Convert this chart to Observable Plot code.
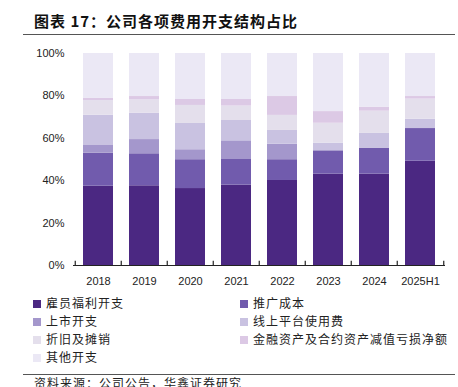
<!DOCTYPE html>
<html>
<head>
<meta charset="utf-8">
<script src="https://cdn.jsdelivr.net/npm/d3@7"></script>
<script src="https://cdn.jsdelivr.net/npm/@observablehq/plot@0.6"></script>
<style>
  html, body { margin: 0; padding: 0; background: #fff; }
  body { width: 458px; height: 387px; position: relative; overflow: hidden; font-family: "Liberation Sans", "Noto Sans CJK SC", sans-serif; }
  #title { position: absolute; left: 34px; top: 11px; font-family: "Noto Sans CJK SC", sans-serif; font-weight: bold; font-size: 15px; letter-spacing: 1px; color: #111; line-height: 20px; white-space: nowrap; }
  .hline { position: absolute; left: 23px; width: 432px; height: 0; border-top: 1.5px solid #555; }
  #chart { position: absolute; left: 0; top: 40px; }
  .leg { position: absolute; font-family: "Noto Sans CJK SC", sans-serif; font-size: 12px; letter-spacing: 1px; color: #222; line-height: 14px; white-space: nowrap; }
  .sw { position: absolute; width: 8px; height: 8px; }
  #source { position: absolute; left: 34px; top: 376px; font-family: "Noto Sans CJK SC", sans-serif; font-size: 12px; letter-spacing: 1px; color: #222; white-space: nowrap; line-height: 14px; }
</style>
</head>
<body>
<div id="title">图表 17：公司各项费用开支结构占比</div>
<div class="hline" style="top:34px"></div>
<div id="chart"></div>
<div id="legend"></div>
<div class="hline" style="top:374px"></div>
<div id="source">资料来源：公司公告，华鑫证券研究</div>
<script>
const years = ["2018", "2019", "2020", "2021", "2022", "2023", "2024", "2025H1"];
const seriesNames = ["雇员福利开支", "推广成本", "上市开支", "线上平台使用费", "折旧及摊销", "金融资产及合约资产减值亏损净额", "其他开支"];
const colors = ["#4b2882", "#715bad", "#a497cc", "#c9c2e1", "#e4dfec", "#dcc9e5", "#ebe8f5"];

const employee   = [37.4, 37.6, 36.3, 37.9, 40.1, 43.1, 43.1, 49.2];
const promotion  = [15.6, 15.1, 13.6, 12.1,  9.8, 11.0, 12.1, 15.4];
const listing    = [ 3.6,  6.7,  4.7,  8.8,  7.3,  0.0,  0.0,  0.0];
const online     = [14.3, 12.4, 12.4,  9.6,  6.5,  3.6,  7.1,  4.4];
const depreciation = [6.9, 6.4,  8.5,  6.8,  7.1,  9.4, 10.5,  9.5];
const impairment = [ 1.0,  1.5,  2.8,  3.1,  8.9,  5.5,  1.9,  1.2];
const other      = [21.2, 20.3, 21.7, 21.7, 20.3, 27.4, 25.3, 20.3];

const yTicks = [0, 20, 40, 60, 80, 100];

const seriesValues = [employee, promotion, listing, online, depreciation, impairment, other];
const rows = [];
seriesValues.forEach((vals, si) => {
  vals.forEach((v, yi) => rows.push({year: years[yi], series: seriesNames[si], value: v}));
});

const step = (458 - 73 - 13) / years.length;

const chart = Plot.plot({
  width: 458,
  height: 252,
  marginLeft: 73,
  marginRight: 13,
  marginTop: 13,
  marginBottom: 27,
  style: {fontFamily: "Liberation Sans, Arial, sans-serif", fontSize: "11px", color: "#222", background: "transparent"},
  x: {domain: years, paddingInner: 0.355, paddingOuter: 0.1775, label: null, tickSize: 0, tickPadding: 12},
  y: {domain: [0, 100], ticks: yTicks, tickFormat: d => d + "%", label: null, tickSize: 0, tickPadding: 9},
  color: {domain: seriesNames, range: colors},
  marks: [
    Plot.barY(rows, Plot.stackY({x: "year", y: "value", fill: "series", order: seriesNames})),
    Plot.ruleY([0], {stroke: "#222", strokeWidth: 1.2}),
    Plot.ruleX(years, {x: d => d, y1: 0, y2: 2, dx: -step / 2, stroke: "#222", strokeWidth: 1.2}),
    Plot.ruleX([years[years.length - 1]], {x: d => d, y1: 0, y2: 2, dx: step / 2, stroke: "#222", strokeWidth: 1.2})
  ]
});
document.getElementById("chart").appendChild(chart);

// legend
const legend = document.getElementById("legend");
const legPos = [
  [33, 304], [240, 304],
  [33, 322], [240, 322],
  [33, 340], [240, 340],
  [33, 358]
];
seriesNames.forEach((name, i) => {
  const [x, y] = legPos[i];
  const sw = document.createElement("div");
  sw.className = "sw";
  sw.style.left = x + "px";
  sw.style.top = (y - 4) + "px";
  sw.style.background = colors[i];
  legend.appendChild(sw);
  const t = document.createElement("div");
  t.className = "leg";
  t.style.left = (x + 13) + "px";
  t.style.top = (y - 8) + "px";
  t.textContent = name;
  legend.appendChild(t);
});
</script>
</body>
</html>
